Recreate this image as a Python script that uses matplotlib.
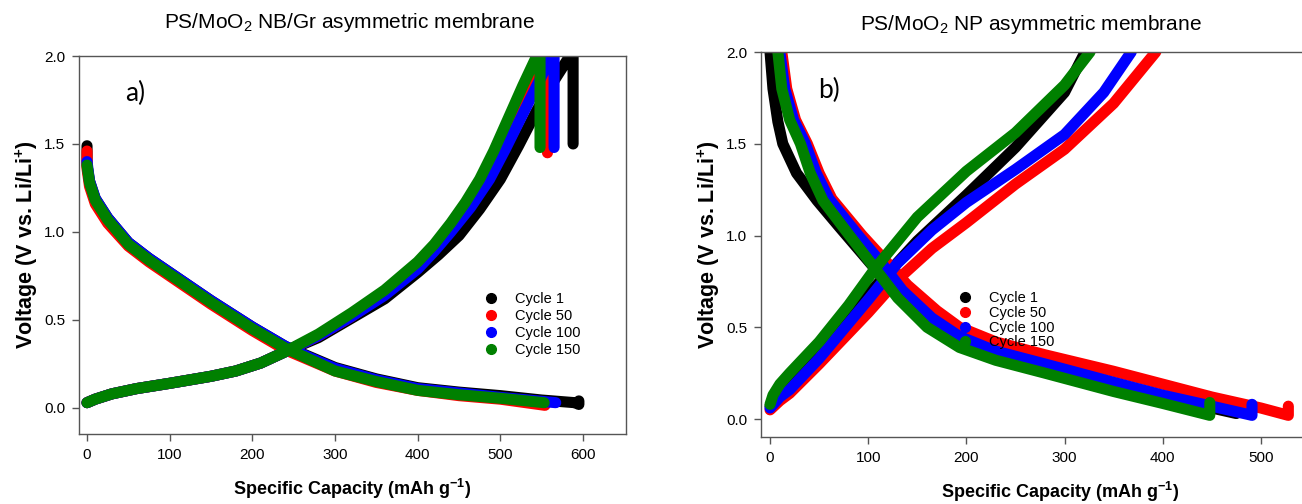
import matplotlib
matplotlib.use('Agg')
import matplotlib.pyplot as plt
from matplotlib.lines import Line2D

plt.rcParams['font.family'] = ['Liberation Sans', 'DejaVu Sans']
plt.rcParams['mathtext.default'] = 'regular'

W, H = 1302, 504

labels = ['Cycle 1', 'Cycle 50', 'Cycle 100', 'Cycle 150']
colors = ['black', 'red', 'blue', 'green']

# a) PS/MoO2 NB/Gr : (capacity mAh/g, voltage V)
a_c1_dis = [(0, 1.49), (0, 1.38), (3, 1.29), (10, 1.19), (25, 1.08), (50, 0.94), (75, 0.85), (100, 0.77),
            (150, 0.61), (200, 0.46), (240, 0.35), (270, 0.29), (300, 0.23), (350, 0.165), (400, 0.115),
            (450, 0.09), (500, 0.07), (550, 0.045), (590, 0.03), (595, 0.02), (595, 0.04)]
a_c50_dis = [(0, 1.46), (0, 1.36), (3, 1.26), (10, 1.16), (25, 1.05), (50, 0.92), (75, 0.83), (100, 0.75),
             (150, 0.59), (200, 0.44), (240, 0.33), (270, 0.27), (300, 0.21), (350, 0.145), (400, 0.1),
             (450, 0.07), (500, 0.05), (554, 0.015)]
a_c100_dis = [(0, 1.4), (3, 1.29), (10, 1.19), (25, 1.08), (50, 0.94), (75, 0.85), (100, 0.77),
              (150, 0.61), (200, 0.46), (240, 0.35), (270, 0.285), (300, 0.225), (350, 0.16), (400, 0.11),
              (450, 0.085), (500, 0.06), (567, 0.03)]
a_c150_dis = [(0, 1.38), (3, 1.28), (10, 1.18), (25, 1.07), (50, 0.93), (75, 0.84), (100, 0.76),
              (150, 0.6), (200, 0.45), (240, 0.34), (270, 0.275), (300, 0.21), (350, 0.15), (400, 0.1),
              (450, 0.075), (500, 0.055), (553, 0.03)]

a_c1_chg = [(0, 0.03), (10, 0.05), (30, 0.08), (60, 0.11), (100, 0.14), (150, 0.18), (180, 0.21), (210, 0.255),
            (240, 0.32), (280, 0.4), (320, 0.51), (360, 0.62), (400, 0.77), (425, 0.87), (450, 0.98),
            (475, 1.13), (500, 1.3), (522, 1.49), (544, 1.69), (565, 1.86), (584, 2.0), (588, 2.0), (588, 1.5)]
a_c50_chg = [(0, 0.03), (10, 0.05), (30, 0.08), (60, 0.11), (100, 0.14), (150, 0.18), (180, 0.21), (210, 0.255),
             (240, 0.32), (280, 0.41), (320, 0.52), (360, 0.65), (400, 0.8), (420, 0.9), (440, 1.02),
             (461, 1.15), (481, 1.3), (500, 1.47), (520, 1.66), (538, 1.83), (556, 2.0), (557, 2.0), (557, 1.45)]
a_c100_chg = [(0, 0.03), (10, 0.05), (30, 0.08), (60, 0.11), (100, 0.14), (150, 0.18), (180, 0.21), (210, 0.255),
              (240, 0.32), (280, 0.41), (320, 0.52), (360, 0.64), (400, 0.79), (420, 0.89), (440, 1.0),
              (464, 1.14), (487, 1.3), (506, 1.47), (525, 1.65), (544, 1.83), (562, 2.0), (565, 2.0), (565, 1.48)]
a_c150_chg = [(0, 0.03), (10, 0.05), (30, 0.08), (60, 0.11), (100, 0.14), (150, 0.18), (180, 0.21), (210, 0.255),
              (240, 0.32), (280, 0.42), (320, 0.54), (360, 0.67), (400, 0.83), (420, 0.93), (440, 1.05),
              (458, 1.17), (475, 1.3), (492, 1.46), (510, 1.65), (527, 1.83), (544, 2.0), (548, 2.0), (548, 1.48)]

# b) PS/MoO2 NP
b_c1_dis = [(0, 2.0), (3, 1.8), (8, 1.62), (13, 1.5), (27, 1.34), (48, 1.19), (70, 1.05),
            (110, 0.8), (135, 0.66), (165, 0.52), (193, 0.43), (230, 0.36), (280, 0.28), (350, 0.18),
            (400, 0.11), (450, 0.06), (475, 0.03)]
b_c50_dis = [(12, 2.0), (17, 1.8), (26, 1.63), (38, 1.5), (50, 1.34), (63, 1.2), (94, 1.0),
             (118, 0.86), (140, 0.73), (170, 0.59), (193, 0.5), (230, 0.42), (280, 0.35), (350, 0.26),
             (400, 0.19), (450, 0.12), (500, 0.06), (528, 0.02), (528, 0.07)]
b_c100_dis = [(10, 2.0), (15, 1.8), (24, 1.63), (36, 1.5), (47, 1.34), (60, 1.2), (90, 1.0),
              (115, 0.84), (135, 0.7), (165, 0.55), (193, 0.45), (230, 0.37), (280, 0.3), (350, 0.2),
              (400, 0.13), (450, 0.07), (491, 0.02), (491, 0.08)]
b_c150_dis = [(8, 2.0), (12, 1.8), (20, 1.63), (31, 1.5), (41, 1.34), (54, 1.19), (81, 1.0),
              (107, 0.82), (130, 0.66), (160, 0.5), (193, 0.39), (230, 0.32), (280, 0.25), (350, 0.15),
              (400, 0.085), (448, 0.02), (448, 0.09)]

b_c1_chg = [(0, 0.07), (10, 0.13), (20, 0.17), (50, 0.35), (100, 0.68), (150, 0.97), (200, 1.22),
            (250, 1.48), (300, 1.78), (321, 2.0)]
b_c50_chg = [(0, 0.05), (10, 0.1), (20, 0.14), (50, 0.3), (100, 0.58), (130, 0.76), (165, 0.93), (200, 1.07),
             (250, 1.28), (300, 1.47), (350, 1.72), (393, 2.0)]
b_c100_chg = [(0, 0.06), (10, 0.12), (20, 0.16), (50, 0.33), (100, 0.65), (130, 0.85), (165, 1.03), (200, 1.18),
              (250, 1.36), (300, 1.55), (340, 1.78), (368, 2.0)]
b_c150_chg = [(0, 0.08), (3, 0.13), (10, 0.19), (20, 0.25), (50, 0.42), (80, 0.62), (107, 0.82),
              (150, 1.1), (200, 1.35), (250, 1.56), (300, 1.82), (326, 2.0)]

a_series = [(a_c1_dis, a_c1_chg), (a_c50_dis, a_c50_chg), (a_c100_dis, a_c100_chg), (a_c150_dis, a_c150_chg)]
b_series = [(b_c1_dis, b_c1_chg), (b_c50_dis, b_c50_chg), (b_c100_dis, b_c100_chg), (b_c150_dis, b_c150_chg)]


def draw_panel(ax, series):
    for (dis, chg), c in zip(series, colors):
        for pts in (dis, chg):
            x = [p[0] for p in pts]
            y = [p[1] for p in pts]
            ax.plot(x, y, color=c, lw=8, solid_capstyle='round', solid_joinstyle='round')


def style_axes(ax, xticks):
    for s in ax.spines.values():
        s.set_color('#555555')
        s.set_linewidth(1.0)
    ax.set_xticks(xticks)
    ax.set_yticks([0.0, 0.5, 1.0, 1.5, 2.0])
    ax.set_yticklabels(['0.0', '0.5', '1.0', '1.5', '2.0'])
    ax.tick_params(direction='out', length=5, width=1, color='#555555', labelsize=11, pad=5)
    ax.set_xlabel('Specific Capacity (mAh g$^{-1}$)', fontsize=13, fontweight='bold', labelpad=11)
    ax.set_ylabel('Voltage (V vs. Li/Li$^{+}$)', fontsize=15.5, fontweight='bold', labelpad=3)


def add_legend(ax, x_px, y_px, spacing):
    handles = [Line2D([], [], marker='o', ls='none', color=c, markersize=7) for c in colors]
    leg = ax.legend(handles, labels, loc='upper left', bbox_to_anchor=(x_px / W, 1 - y_px / H),
                    bbox_transform=fig.transFigure, frameon=False, fontsize=10.5, borderpad=0,
                    handlelength=1.0, handletextpad=1.2, labelspacing=spacing)
    leg.set_zorder(10)


fig = plt.figure(figsize=(W / 100, H / 100), dpi=100)

ax1 = fig.add_axes([79 / W, (H - 434) / H, 547 / W, 378 / H])
draw_panel(ax1, a_series)
ax1.set_xlim(-9.7, 652)
ax1.set_ylim(-0.148, 2.0)
style_axes(ax1, [0, 100, 200, 300, 400, 500, 600])
ax1.text(0.085, 0.9, 'a)', transform=ax1.transAxes, fontsize=19, family='Lato', va='center')
add_legend(ax1, 476, 285, 0.2)
fig.text(349 / W, 1 - 22 / H, 'PS/MoO$_2$ NB/Gr asymmetric membrane', ha='center', va='center', fontsize=15)

ax2 = fig.add_axes([761 / W, (H - 437) / H, 598 / W, 385 / H])
draw_panel(ax2, b_series)
ax2.set_xlim(-9.2, 600)
ax2.set_ylim(-0.098, 2.0)
style_axes(ax2, [0, 100, 200, 300, 400, 500])
ax2.text(0.095, 0.9, 'b)', transform=ax2.transAxes, fontsize=19, family='Lato', va='center')
add_legend(ax2, 950, 284, 0.05)
fig.text(1031 / W, 1 - 25 / H, 'PS/MoO$_2$ NP asymmetric membrane', ha='center', va='center', fontsize=15)

fig.savefig('out.png', dpi=100)
